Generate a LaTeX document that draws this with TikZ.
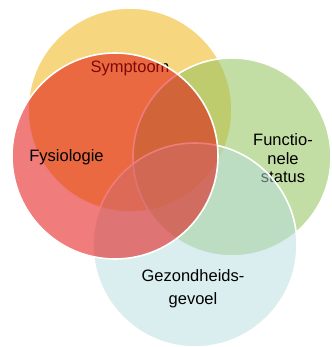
\documentclass[tikz,border=0pt]{standalone}
\usepackage{fontspec}
\setmainfont{Liberation Sans}
\definecolor{cyel}{RGB}{246,214,126}
\definecolor{cgrn}{RGB}{152,198,98}
\definecolor{cblu}{RGB}{183,221,223}
\definecolor{cred}{RGB}{227,16,16}
\tikzset{
  venn/.style={circle, draw=white, line width=1.6pt, inner sep=0pt, outer sep=0pt},
  lbl/.style={inner sep=0pt, font=\fontsize{16.5}{18}\selectfont, text=black}
}
\begin{document}
\begin{tikzpicture}[x=1pt,y=-1pt]
\useasboundingbox (0,0) rectangle (331,347);
\node (sym) [venn, fill=cyel, minimum size=204pt] at (130,110) {};
\node (tsym) [lbl] at (130,68) {Symptoom};
\node (fun) [venn, fill=cgrn, fill opacity=.58, minimum size=198pt] at (232,157) {};
\node (tfun1) [lbl] at (283,140) {Functio-};
\node (tfun2) [lbl] at (283,158.5) {nele};
\node (tfun3) [lbl] at (283,177) {status};
\node (gez) [venn, fill=cblu, fill opacity=.5, minimum size=204pt] at (195,245) {};
\node (tgez1) [lbl] at (193,275.5) {Gezondheids-};
\node (tgez2) [lbl] at (193,300) {gevoel};
\node (fys) [venn, fill=cred, fill opacity=.55, minimum size=206pt] at (115,156) {};
\node (tfys) [lbl] at (66.5,157) {Fysiologie};
\end{tikzpicture}
\end{document}
